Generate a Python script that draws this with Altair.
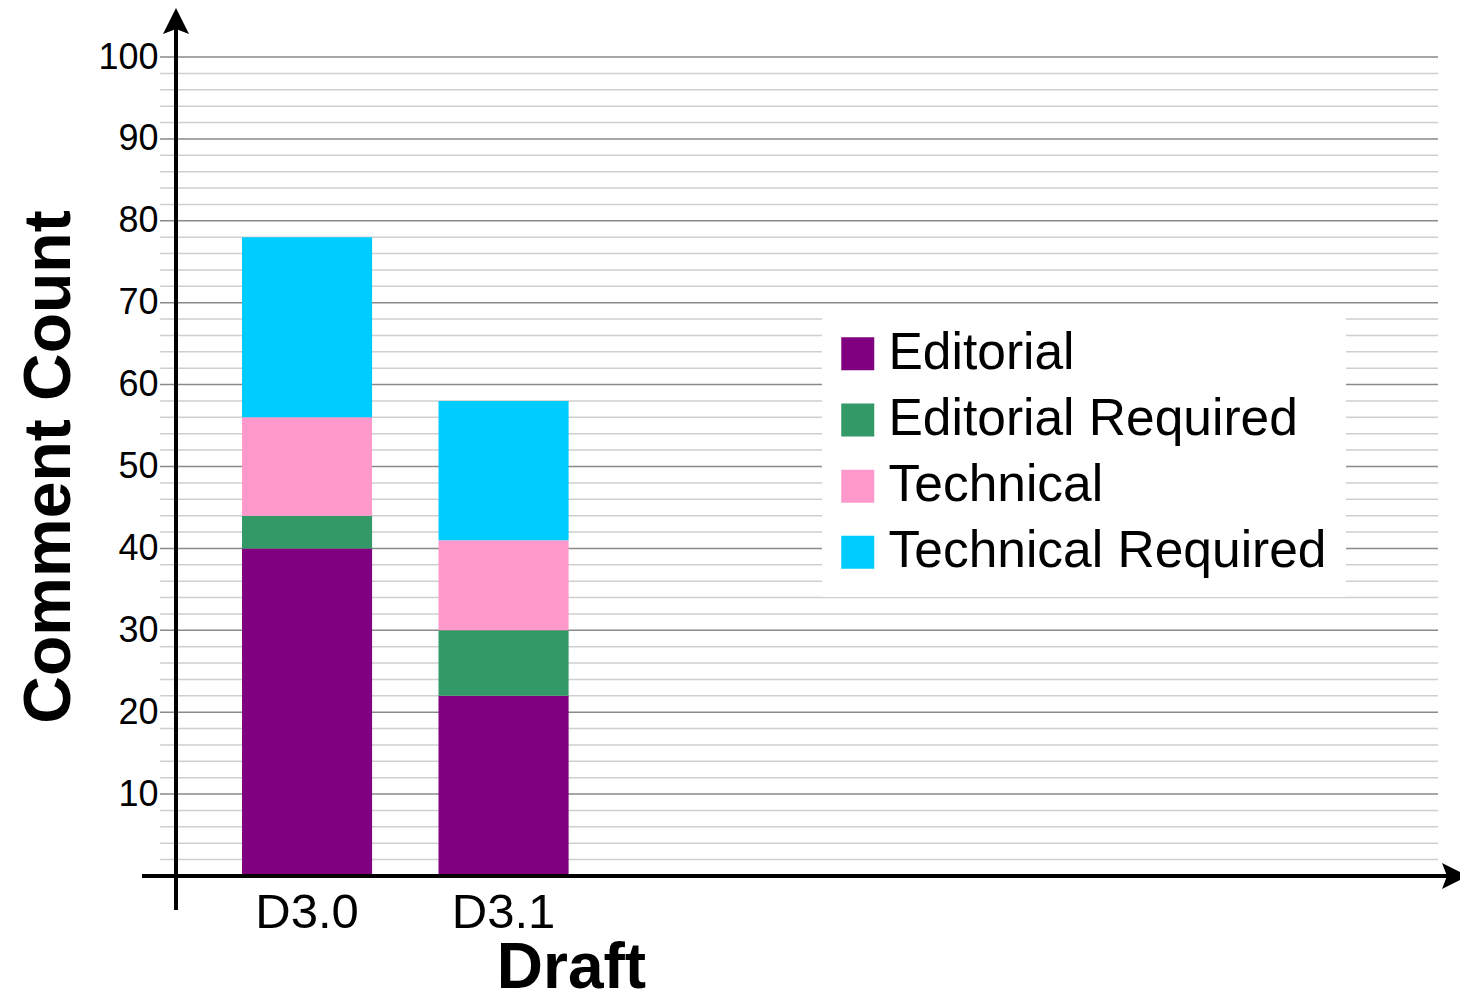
import altair as alt
import pandas as pd

drafts = ["D3.0", "D3.1"]
categories = ["Editorial", "Editorial Required", "Technical", "Technical Required"]
colors = ["#800080", "#339966", "#FF99CC", "#00CCFF"]
editorial = [40, 22]
editorial_required = [4, 8]
technical = [12, 11]
technical_required = [22, 17]
major_ticks = list(range(10, 101, 10))
grid_values = list(range(2, 101, 2))

series = [editorial, editorial_required, technical, technical_required]
rows = []
for ci, (cat, vals) in enumerate(zip(categories, series)):
    for d, v in zip(drafts, vals):
        rows.append({"Draft": d, "Type": cat, "Count": v, "order": ci})
df = pd.DataFrame(rows)
grid_df = pd.DataFrame({"g": grid_values, "major": [v % 10 == 0 for v in grid_values]})

FONT = "Liberation Sans"
W, H = 1278, 819
yscale = alt.Scale(domain=[0, 100], nice=False, zero=True)
yaxis = alt.Axis(title="Comment Count", values=major_ticks, domain=False, ticks=False,
                 grid=False,
                 labelFontSize=36, labelFont=FONT, labelColor="black", labelPadding=2,
                 titleFont=FONT, titleFontSize=66, titleFontWeight="bold", titleColor="black",
                 titleX=-91, titleY=409.5, titleAngle=270, titleAlign="center",
                 titleBaseline="alphabetic")

grid = alt.Chart(grid_df).mark_rule(strokeWidth=1.5).encode(
    y=alt.Y("g:Q", scale=yscale, axis=yaxis, title="Comment Count"),
    color=alt.condition("datum.major", alt.value("#8a8a8a"), alt.value("#cfcfcf")),
)

bars = alt.Chart(df).mark_bar(strokeWidth=0).encode(
    x=alt.X("Draft:N", sort=drafts,
            scale=alt.Scale(domain=drafts, paddingInner=0.338, paddingOuter=0, range=[82, 408.6]),
            axis=alt.Axis(title="Draft", domain=False, ticks=False, grid=False,
                          labelAngle=0, labelFontSize=49, labelFont=FONT, labelColor="black",
                          labelPadding=12, titleFont=FONT, titleFontSize=64, titleFontWeight="bold",
                          titleColor="black", titleX=411, titleY=111, titleAlign="center",
                          titleBaseline="alphabetic")),
    y=alt.Y("sum(Count):Q", stack="zero", scale=yscale, axis=yaxis, title="Comment Count"),
    color=alt.Color("Type:N", scale=alt.Scale(domain=categories, range=colors),
                    legend=alt.Legend(title=None, orient="none", legendX=662, legendY=253,
                                      fillColor="white", strokeColor="white", padding=18,
                                      symbolType="square", symbolOffset=-8,
                                      symbolSize=1089, symbolStrokeWidth=0, labelFontSize=51.5,
                                      labelFont=FONT, labelColor="black", labelOffset=5,
                                      rowPadding=13.2, labelLimit=600)),
    order=alt.Order("order:Q", sort="ascending"),
)

one = alt.Data(values=[{}])

vline = alt.Chart(one).mark_rule(color="black", strokeWidth=4).encode(
    x=alt.value(16), y=alt.value(-30), y2=alt.value(H + 34))
hline = alt.Chart(one).mark_rule(color="black", strokeWidth=4).encode(
    y=alt.value(H), x=alt.value(-18), x2=alt.value(W + 16))
up_arrow = alt.Chart(one).mark_point(
    shape="M0,-1L0.65,0.3L0,0.05L-0.65,0.3Z", filled=True, color="black", size=1600,
    strokeWidth=0, opacity=1).encode(x=alt.value(16), y=alt.value(-29))
right_arrow = alt.Chart(one).mark_point(
    shape="M1,0L-0.3,0.65L-0.05,0L-0.3,-0.65Z", filled=True, color="black", size=1600,
    strokeWidth=0, opacity=1).encode(x=alt.value(W + 10), y=alt.value(H))

chart = alt.layer(grid, bars, vline, hline, up_arrow, right_arrow).resolve_scale(
    color="independent"
).properties(
    width=W, height=H,
    autosize=alt.AutoSizeParams(type="none"),
    padding={"left": 152, "top": 49, "right": 22, "bottom": 116},
    background="white",
).configure_view(stroke=None)

chart.save("out.html", embed_options={"renderer": "svg", "actions": False})
